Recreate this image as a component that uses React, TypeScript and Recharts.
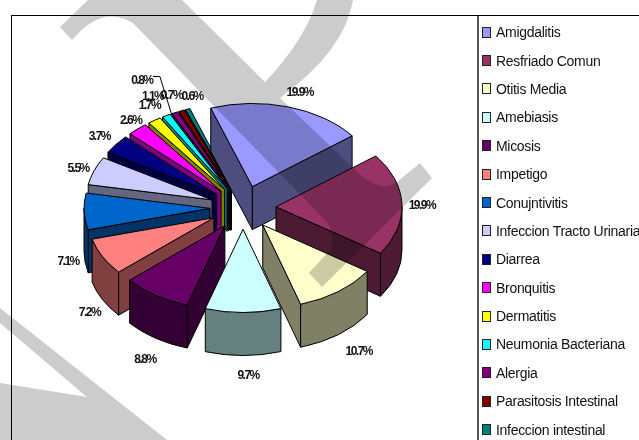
import { Legend, Pie, PieChart } from 'recharts'

const categories = [
  'Amigdalitis',
  'Resfriado Comun',
  'Otitis Media',
  'Amebiasis',
  'Micosis',
  'Impetigo',
  'Conujntivitis',
  'Infeccion Tracto Urinaria',
  'Diarrea',
  'Bronquitis',
  'Dermatitis',
  'Neumonia Bacteriana',
  'Alergia',
  'Parasitosis Intestinal',
  'Infeccion intestinal',
]
const shares = [19.9, 19.9, 10.7, 9.7, 8.8, 7.2, 7.1, 5.5, 3.7, 2.6, 1.7, 1.1, 0.8, 0.7, 0.6]
const colors = [
  '#9999ff', '#993366', '#ffffcc', '#ccffff', '#660066',
  '#ff8080', '#0066cc', '#ccccff', '#000080', '#ff00ff',
  '#ffff00', '#00ffff', '#800080', '#800000', '#008080',
]
// first four slices sit on top going clockwise, the rest stack the other way
const frontCount = 4

// fake 3d settings
const CX = 243
const CY = 207.5
const RADIUS = 126
const SQUASH = 0.66
const EXPLODE = 33
const DEPTH = 43
const START = 109.3

// label tweaks from the radial base position, same order as categories
const labelNudge = [
  [7, -6], [4, 1], [11, 16], [5, 9], [-2, 19],
  [1, 30], [0, 47], [-1, 0], [-4, -3], [4, -2],
  [4, -8], [-6, -12], [-26, -25], [-4, -7], [10, -5],
]

const rows = categories.map((name, i) => ({ name, value: shares[i] }))
const rowsBack = [...rows].reverse()

const rad = (a: number) => (a * Math.PI) / 180

function darken(hex: string) {
  const n = parseInt(hex.slice(1), 16)
  const c = (v: number) => Math.round(v / 2)
  return `rgb(${c((n >> 16) & 255)},${c((n >> 8) & 255)},${c(n & 255)})`
}

function Slice3D(props: any, drawFront: boolean) {
  const { cx, cy, outerRadius: r, startAngle, endAngle, name } = props
  const idx = categories.indexOf(name)
  if (idx < frontCount !== drawFront) return <g />

  const hi = Math.max(startAngle, endAngle)
  const lo = Math.min(startAngle, endAngle)
  const mid = (hi + lo) / 2
  const ox = cx + EXPLODE * Math.cos(rad(mid))
  const oy = cy - SQUASH * EXPLODE * Math.sin(rad(mid))
  const pt = (a: number, d = 0) =>
    `${ox + r * Math.cos(rad(a))} ${oy - SQUASH * r * Math.sin(rad(a)) + d}`
  const ry = r * SQUASH
  const fill = colors[idx]
  const side = darken(fill)

  const walls: string[] = []
  for (let n = -2; n <= 2; n++) {
    const a = Math.max(lo, -180 + 360 * n)
    const b = Math.min(hi, 360 * n)
    if (b > a) {
      walls.push(
        `M${pt(b)} A${r} ${ry} 0 0 1 ${pt(a)} L${pt(a, DEPTH)} A${r} ${ry} 0 0 0 ${pt(b, DEPTH)} Z`,
      )
    }
  }
  const cut = (a: number) =>
    `M${ox} ${oy} L${pt(a)} L${pt(a, DEPTH)} L${ox} ${oy + DEPTH} Z`

  return (
    <g stroke="#000" strokeWidth={1} strokeLinejoin="round">
      {Math.cos(rad(hi)) < 0 && <path d={cut(hi)} fill={side} />}
      {Math.cos(rad(lo)) > 0 && <path d={cut(lo)} fill={side} />}
      {walls.map((d) => (
        <path key={d} d={d} fill={side} />
      ))}
      <path d={`M${ox} ${oy} L${pt(hi)} A${r} ${ry} 0 0 1 ${pt(lo)} Z`} fill={fill} />
    </g>
  )
}

function SliceLabel(props: any) {
  const { cx, cy, midAngle, outerRadius: r, name, value } = props
  const idx = categories.indexOf(name)
  const c = Math.cos(rad(midAngle))
  const s = Math.sin(rad(midAngle))
  const [nx, ny] = labelNudge[idx]
  const x = cx + 175 * c + nx
  const y = cy - 114 * s + 45 * Math.max(0, -s) + ny
  const label = (
    <text
      x={x}
      y={y}
      textAnchor="middle"
      dominantBaseline="central"
      fontFamily="Liberation Sans, Arial, sans-serif"
      fontWeight="bold"
      fontSize={12}
      letterSpacing={-1.5}
      fill="#111"
    >
      {`${value.toFixed(1)}%`}
    </text>
  )
  if (name !== 'Alergia') return label
  // only this one gets a leader line in the original
  const ax = cx + (EXPLODE + r) * c
  const ay = cy - SQUASH * (EXPLODE + r) * s
  return (
    <g>
      {label}
      <polyline
        points={`${x + 11} ${y - 3} ${x + 18} ${y - 3} ${ax - 3} ${ay + 2}`}
        fill="none"
        stroke="#000"
        strokeWidth={1}
      />
    </g>
  )
}

function ChartLegend() {
  return (
    <div style={{ fontFamily: 'Liberation Sans, Arial, sans-serif', fontSize: 14, letterSpacing: -0.3, color: '#111' }}>
      {categories.map((name, i) => (
        <div key={name} style={{ display: 'flex', alignItems: 'center', height: 28.4, whiteSpace: 'nowrap' }}>
          <span
            style={{
              width: 7,
              height: 9,
              marginRight: 5,
              flex: 'none',
              background: colors[i],
              border: '1px solid #222',
            }}
          />
          {name}
        </div>
      ))}
    </div>
  )
}

// grey watermark lying over the whole image
function Watermark() {
  return (
    <svg
      width={639}
      height={440}
      style={{ position: 'absolute', left: 0, top: 0, mixBlendMode: 'multiply', pointerEvents: 'none' }}
    >
      <path
        fill="#cccccc"
        d="M60 27 L88 0 L182 0 L265 82 Q305 40 317 0 L353 0 Q345 50 280 98 L350 165 Q378 195 397 182 L420 163 L432 178 L322 287 L309 273 L330 250 Q336 232 325 220 L133 23 Q102 4 72 40 Z"
      />
      <path fill="#cccccc" d="M0 308 L167 440 L0 440 L0 383 L87 397 L0 323 Z" />
    </svg>
  )
}

export default function App() {
  return (
    <div style={{ position: 'absolute', left: 0, top: 0, width: 639, height: 440, overflow: 'hidden', background: '#fff' }}>
      <PieChart width={639} height={440} margin={{ top: 0, right: 0, bottom: 0, left: 0 }}>
        <Pie
          data={rowsBack}
          dataKey="value"
          nameKey="name"
          cx={CX}
          cy={CY}
          outerRadius={RADIUS}
          startAngle={START}
          endAngle={START + 360}
          isAnimationActive={false}
          shape={(p: any) => Slice3D(p, false)}
          label={SliceLabel}
          labelLine={false}
        />
        <Pie
          data={rows}
          dataKey="value"
          nameKey="name"
          cx={CX}
          cy={CY}
          outerRadius={RADIUS}
          startAngle={START}
          endAngle={START - 360}
          isAnimationActive={false}
          shape={(p: any) => Slice3D(p, true)}
          label={false}
          labelLine={false}
        />
        <Legend
          content={ChartLegend}
          wrapperStyle={{ position: 'absolute', left: 482, top: 18, width: 157, bottom: 'auto', overflow: 'hidden' }}
        />
      </PieChart>
      <div style={{ position: 'absolute', left: 11, top: 15, width: 640, height: 440, borderLeft: '1px solid #000', borderTop: '1px solid #000' }} />
      <div style={{ position: 'absolute', left: 477, top: 16, width: 1.5, height: 424, background: '#555' }} />
      <Watermark />
    </div>
  )
}
